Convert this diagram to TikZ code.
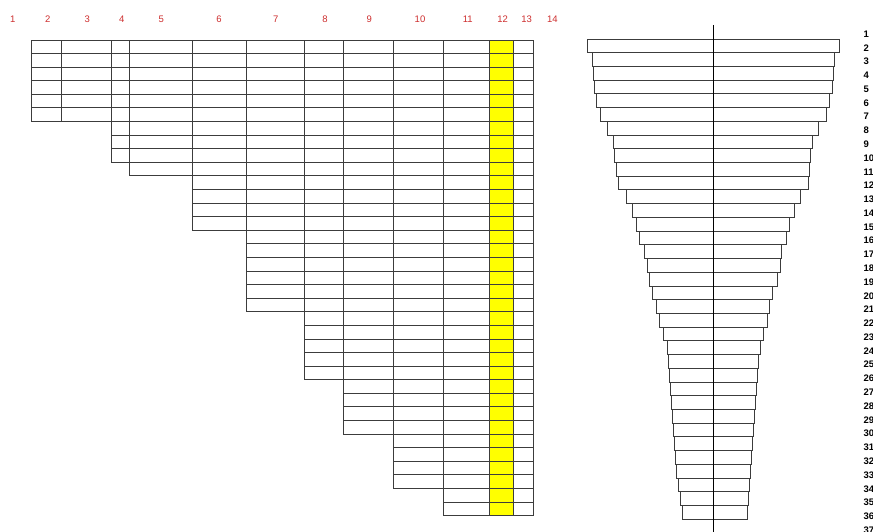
\documentclass[tikz,border=0pt]{standalone}
\usepackage{fontspec}
\setmainfont{Liberation Sans}
\usetikzlibrary{positioning}
\definecolor{TbRed}{RGB}{205,45,45}
\definecolor{TbLine}{RGB}{60,60,60}
\definecolor{TbHilite}{RGB}{255,255,0}
\tikzset{
  tb/cell/.style={
    draw=TbLine,
    line width=0.9pt
  },
  tb/hilite/.style={
    fill=TbHilite
  },
  tb/bar/.style={
    draw=TbLine,
    line width=0.9pt
  },
  tb/axis/.style={draw=black, line width=0.9pt},
  tb/collabel/.style={font=\fontsize{9.5}{10}\selectfont, text=TbRed, inner sep=0pt},
  tb/rowlabel/.style={font=\fontsize{9.5}{10}\selectfont\bfseries, text=black, anchor=west, inner sep=0pt}
}

\begin{document}
\begin{tikzpicture}[x=1pt,y=-1pt]
  \useasboundingbox (0,0) rectangle (873,532);
  \clip (0,0) rectangle (873,532);

  % column numbers
  \foreach \lbl/\x in {1/12.7,2/47.7,3/87.3,4/121.7,5/161.3,6/219,7/275.7,
                       8/325,9/369.3,10/420,11/467.7,12/502.7,13/526.7,14/552.3}{
    \node[tb/collabel] (col-\lbl) at (\x,19) {\lbl};
  }

  % highlighted column
  \fill[tb/hilite] (489.5,40) rectangle (513,{40+35*13.59});

  % staircase table: column / left / right / rows
  \foreach \lbl/\xl/\xr/\n in {2/31/61/6,3/61/111/6,4/111/129/9,5/129/192/10,
                               6/192/246.5/14,7/246.5/304.5/20,8/304.5/343.5/25,
                               9/343.5/393.5/29,10/393.5/443.5/33,11/443.5/489.5/35,
                               12/489.5/513/35,13/513/533.5/35}{
    \foreach \r in {1,...,\n}{
      \draw[tb/cell] (\xl,{40+(\r-1)*13.59}) rectangle (\xr,{40+\r*13.59});
    }
  }

  % funnel bars: row / left / right
  \foreach \k/\xl/\xr in {1/587.3/839.3,2/592.3/834.7,3/593.3/833.3,4/594.3/832,
                          5/596/829.3,6/600.3/826.3,7/607.8/818.3,8/613.8/812.3,
                          9/614.8/810.3,10/616.7/809.3,11/618/808.3,12/626/800.3,
                          13/632/794.3,14/636.7/789.3,15/639.7/786.3,16/644.7/781.3,
                          17/647/780.3,18/649.5/777.3,19/652.7/772.7,20/656.7/769.3,
                          21/659/767.3,22/663.7/763.3,23/667.7/760.3,24/668.7/758.7,
                          25/669.7/757.3,26/670.7/756.3,27/671.7/755.3,28/672.7/754.3,
                          29/673.7/753.3,30/674.7/752.3,31/675.7/751.3,32/676.7/750.3,
                          33/678.7/749.3,34/680.3/748.3,35/682.3/747.3}{
    \draw[tb/bar] (\xl,{39+(\k-1)*13.72}) rectangle (\xr,{39+\k*13.72});
  }
  \coordinate (axis-top) at (713.3,25);
  \coordinate (axis-bot) at (713.3,532);
  \draw[tb/axis] (axis-top) -- (axis-bot);

  % row numbers
  \foreach \k in {1,...,37}{
    \node[tb/rowlabel] (row-\k) at (863.5,{34+(\k-1)*13.78}) {\k};
  }
\end{tikzpicture}
\end{document}
